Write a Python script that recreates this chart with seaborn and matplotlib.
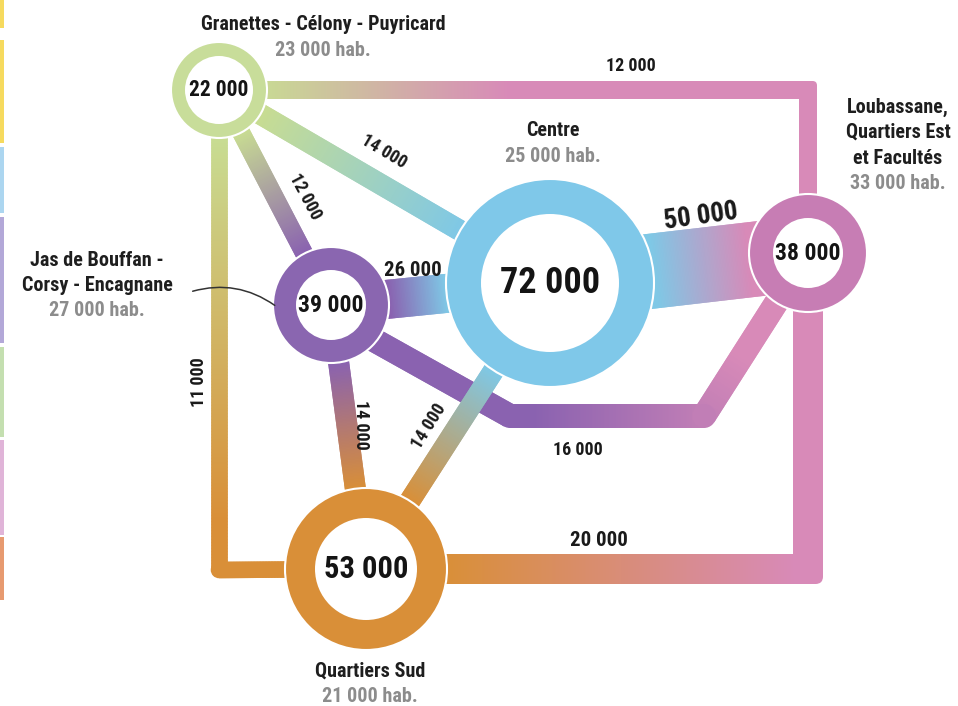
import numpy as np
import matplotlib
matplotlib.use("Agg")
import matplotlib.pyplot as plt
import seaborn as sns
from matplotlib.collections import LineCollection
from matplotlib.patches import Circle, FancyBboxPatch, FancyArrowPatch

# ---------------- data ----------------
zones = ["Granettes", "Jas", "Centre", "Loubassane", "Sud"]
zone_titles = ["Granettes - Célony - Puyricard",
               "Jas de Bouffan -\nCorsy - Encagnane",
               "Centre",
               "Loubassane,\nQuartiers Est\net Facultés",
               "Quartiers Sud"]
inhabitants = [23000, 27000, 25000, 33000, 21000]
node_values = [22000, 39000, 72000, 38000, 53000]

link_source = ["Jas", "Granettes", "Granettes", "Granettes", "Granettes",
               "Jas", "Jas", "Centre", "Centre", "Sud"]
link_target = ["Loubassane", "Loubassane", "Centre", "Jas", "Sud",
               "Centre", "Sud", "Loubassane", "Sud", "Loubassane"]
link_values = [16000, 12000, 14000, 12000, 11000,
               26000, 14000, 50000, 14000, 20000]

# cropped legend strip on the left edge
strip_start = [0, 40, 147, 217, 347, 440, 537]
strip_end = [28, 143, 213, 343, 437, 535, 600]
strip_colors = ["#f6da5e", "#f6da5e", "#acd6f0", "#b3a8d8", "#c4dfb0", "#e0b4d8", "#e79a70"]

# ---------------- layout / style ----------------
node_xy = {"Granettes": (219, 90), "Jas": (331, 305), "Centre": (550, 283),
           "Loubassane": (808, 253), "Sud": (366, 569)}
node_radii = {"Granettes": (48, 34), "Jas": (58, 35), "Centre": (104, 69),
              "Loubassane": (59, 35), "Sud": (81, 51)}
node_color = {"Granettes": "#c8dd9a", "Jas": "#8a66b0", "Centre": "#7fc8e9",
              "Loubassane": "#c77db4", "Sud": "#d98f38"}
link_end_color = {"Granettes": "#c8dc92", "Jas": "#8a62b0", "Centre": "#7fc8e6",
                  "Loubassane": "#d88ab8", "Sud": "#d98f38"}
node_value_size = {"Granettes": 15.5, "Jas": 17, "Centre": 26, "Loubassane": 17, "Sud": 22}

link_route = {("Granettes", "Loubassane"): [(808, 90)],
              ("Granettes", "Sud"): [(219, 570)],
              ("Jas", "Loubassane"): [(331, 316), (510, 416), (704, 416)],
              ("Sud", "Loubassane"): [(808, 569)]}
# where the colour blend starts / ends along the route (px from source centre)
gradient_span = {("Granettes", "Loubassane"): (35, 290),
                 ("Sud", "Loubassane"): (80, 430),
                 ("Granettes", "Sud"): (50, 430),
                 ("Jas", "Loubassane"): (240, 480)}

link_label_pos = {("Jas", "Loubassane"): (578, 450, 0, 13),
                  ("Granettes", "Loubassane"): (631, 66, 0, 13),
                  ("Granettes", "Centre"): (384, 152, -31, 13),
                  ("Granettes", "Jas"): (305, 197, -62, 13),
                  ("Granettes", "Sud"): (199, 382, 90, 13),
                  ("Jas", "Centre"): (413, 270, 0, 15),
                  ("Jas", "Sud"): (361, 425, -90, 13),
                  ("Centre", "Loubassane"): (701, 216, 8, 19.5),
                  ("Centre", "Sud"): (429, 426, 58, 13),
                  ("Sud", "Loubassane"): (599, 540, 0, 15)}

title_pos = {"Granettes": (323, 25), "Jas": (97, 260), "Centre": (553, 131),
             "Loubassane": (898, 107), "Sud": (370, 671)}
title_size = 14.5
line_step = 25.5
px_per_unit = 1.5 / 1000.0      # link width (px) per commuter

sns.set_theme(style="white")
plt.rcParams["font.family"] = ["Roboto Condensed", "Roboto", "DejaVu Sans"]
plt.rcParams["font.weight"] = "bold"

W, H, DPI = 958, 706, 100
fig = plt.figure(figsize=(W / DPI, H / DPI), dpi=DPI)
ax = fig.add_axes([0, 0, 1, 1])
ax.set_xlim(0, W)
ax.set_ylim(H, 0)
ax.set_aspect("equal")
ax.axis("off")

px2pt = 72.0 / DPI


def fmt(v):
    return f"{v:,}".replace(",", " ")


# left strip
ax.bar([2] * len(strip_start), np.array(strip_end) - np.array(strip_start),
       bottom=strip_start, width=4.5, color=strip_colors, linewidth=0, zorder=1)

# links
for s, t, v in zip(link_source, link_target, link_values):
    w = v * px_per_unit
    pts = [node_xy[s]] + link_route.get((s, t), []) + [node_xy[t]]
    pts = np.array(pts, dtype=float)
    seglen = np.hypot(*np.diff(pts, axis=0).T)
    cum = np.concatenate([[0], np.cumsum(seglen)])
    L = cum[-1]
    a, b = gradient_span.get((s, t), (node_radii[s][0], L - node_radii[t][0]))
    cmap = sns.blend_palette([link_end_color[s], link_end_color[t]], n_colors=256, as_cmap=True)

    def col_at(sv):
        return cmap(np.clip((sv - a) / (b - a), 0, 1))

    segs, cols = [], []
    for k in range(len(pts) - 1):
        p0, p1 = pts[k], pts[k + 1]
        n = max(3, int(seglen[k] / 1.5))
        fr = np.linspace(0, 1, n)
        P = p0 + np.outer(fr, p1 - p0)
        S = cum[k] + fr * seglen[k]
        for i in range(n - 1):
            j = min(i + 2, n - 1)
            segs.append([P[i], P[j]])
            cols.append(col_at(0.5 * (S[i] + S[i + 1])))
    lc = LineCollection(segs, colors=cols, linewidths=w * px2pt, capstyle="butt", zorder=2)
    ax.add_collection(lc)
    # corners
    for k in range(1, len(pts) - 1):
        c = col_at(cum[k])
        d0 = pts[k] - pts[k - 1]
        d1 = pts[k + 1] - pts[k]
        axis_aligned = (abs(d0[0]) < 1e-6 or abs(d0[1]) < 1e-6) and (abs(d1[0]) < 1e-6 or abs(d1[1]) < 1e-6)
        if axis_aligned:
            ax.add_patch(FancyBboxPatch((pts[k][0] - w / 2, pts[k][1] - w / 2), w, w,
                                        boxstyle=f"round,pad=0,rounding_size={w * 0.25}",
                                        fc=c, ec="none", zorder=2))
        else:
            ax.add_patch(Circle(pts[k], w / 2, fc=c, ec="none", zorder=2))
    lx, ly, rot, fs = link_label_pos[(s, t)]
    ax.text(lx, ly, fmt(v), ha="center", va="center", rotation=rot, fontsize=fs,
            fontweight="bold", color="#1a1a1a", rotation_mode="anchor", zorder=5)

# nodes
for z, val in zip(zones, node_values):
    x, y = node_xy[z]
    ro, ri = node_radii[z]
    ax.add_patch(Circle((x, y), ro, fc=node_color[z], ec="white", lw=1.5, zorder=3))
    ax.add_patch(Circle((x, y), ri, fc="white", ec="none", zorder=4))
    ax.text(x, y, fmt(val), ha="center", va="center", fontsize=node_value_size[z],
            fontweight="bold", color="#141414", zorder=5)

# titles
for z, title, pop in zip(zones, zone_titles, inhabitants):
    x, y = title_pos[z]
    lines = title.split("\n")
    for i, line in enumerate(lines):
        ax.text(x, y + i * line_step, line, ha="center", va="center", fontsize=title_size,
                fontweight="bold", color="#1e1e1e", zorder=5)
    ax.text(x, y + len(lines) * line_step, f"{fmt(pop)} hab.", ha="center", va="center",
            fontsize=title_size, fontweight="bold", color="#8c8c8c", zorder=5)

# leader line for Jas de Bouffan
ax.add_patch(FancyArrowPatch((190, 292), (277, 307), arrowstyle="-",
                             connectionstyle="arc3,rad=-0.25", lw=1.1, color="#333333", zorder=5))

fig.savefig("out.png", dpi=DPI)
